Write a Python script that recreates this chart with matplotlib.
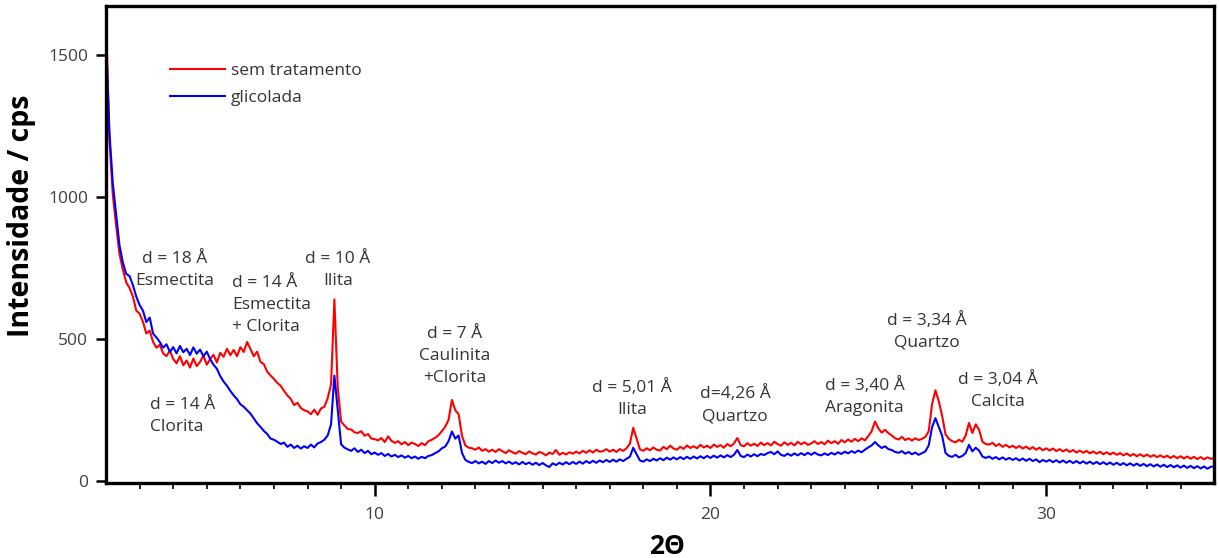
import numpy as np
import matplotlib
matplotlib.use("Agg")
import matplotlib.pyplot as plt

plt.rcParams["font.family"] = ["Open Sans", "DejaVu Sans"]

# 2-theta scan, 0.1 degree step
two_theta = np.round(np.arange(2.0, 35.0001, 0.1), 1)

sem_tratamento = [
    1620, 1200, 1010, 900, 800, 745, 700, 680, 650, 600,
    590, 560, 520, 530, 490, 470, 480, 450, 440, 460,
    430, 415, 440, 408, 425, 400, 432, 405, 420, 442,
    410, 430, 445, 418, 452, 438, 466, 444, 462, 440,
    472, 455, 490, 466, 440, 456, 420, 412, 385, 372,
    360, 346, 336, 318, 302, 290, 268, 276, 258, 250,
    246, 236, 252, 234, 256, 262, 292, 340, 640, 330,
    210, 196, 184, 182, 172, 170, 176, 160, 166, 150,
    148, 144, 152, 138, 158, 142, 135, 141, 130, 138,
    127, 136, 131, 124, 134, 127, 141, 146, 153, 162,
    176, 192, 216, 286, 250, 236, 160, 126, 118, 116,
    111, 119, 107, 113, 104, 111, 103, 113, 106, 99,
    109, 102, 97, 106, 100, 95, 105, 98, 94, 103,
    99, 91, 101, 96, 110, 93, 100, 94, 102, 97,
    104, 98, 107, 100, 109, 101, 111, 104, 106, 113,
    104, 111, 103, 113, 107, 116, 132, 188, 150, 112,
    107, 116, 109, 119, 111, 108, 121, 113, 125, 115,
    111, 121, 114, 126, 117, 123, 116, 128, 119, 125,
    117, 129, 121, 127, 118, 131, 123, 133, 152, 127,
    123, 134, 125, 132, 124, 136, 127, 134, 126, 139,
    131, 125, 137, 128, 135, 126, 139, 130, 137, 128,
    133, 141, 131, 138, 130, 143, 134, 141, 132, 145,
    137, 147, 139, 149, 141, 151, 144, 159, 176, 210,
    186, 171, 181, 169, 161, 151, 147, 156, 145, 151,
    143, 151, 145, 149, 156, 176, 272, 320, 281, 230,
    165, 149, 141, 137, 146, 139, 161, 205, 170, 200,
    181, 139, 131, 129, 135, 124, 131, 121, 128, 119,
    125, 117, 124, 115, 122, 113, 120, 111, 118, 109,
    116, 108, 115, 106, 113, 105, 112, 103, 110, 101,
    108, 100, 107, 98, 105, 97, 104, 95, 102, 94,
    101, 93, 99, 91, 98, 89, 96, 88, 95, 87,
    94, 86, 92, 85, 91, 84, 90, 82, 89, 81,
    88, 80, 87, 79, 86, 78, 85, 77, 84, 79,
    82,
]

glicolada = [
    1560, 1230, 1050, 940, 830, 770, 730, 722, 690, 650,
    620, 600, 560, 576, 520, 506, 490, 470, 482, 455,
    472, 450, 476, 454, 466, 444, 471, 449, 463, 440,
    456, 430, 410, 396, 370, 351, 336, 318, 302, 289,
    271, 262, 250, 238, 221, 204, 191, 177, 166, 150,
    146, 139, 131, 136, 121, 129, 117, 125, 115, 123,
    117, 129, 119, 133, 138, 146, 161, 200, 372, 250,
    130, 118, 112, 107, 116, 103, 111, 99, 107, 95,
    101, 93, 99, 89, 96, 87, 93, 85, 91, 83,
    89, 81, 87, 79, 86, 81, 89, 92, 99, 105,
    116, 122, 141, 175, 150, 161, 100, 75, 68, 64,
    71, 63, 69, 61, 71, 64, 73, 65, 71, 63,
    69, 61, 67, 59, 68, 60, 66, 58, 65, 57,
    64, 56, 50, 63, 57, 65, 59, 67, 60, 68,
    61, 69, 62, 71, 64, 72, 65, 73, 67, 75,
    68, 76, 69, 77, 71, 79, 86, 118, 95, 73,
    69, 77, 71, 79, 73, 81, 74, 83, 76, 84,
    77, 85, 78, 86, 79, 87, 80, 88, 81, 89,
    82, 90, 83, 91, 84, 92, 85, 93, 110, 89,
    85, 94, 87, 95, 88, 96, 92, 99, 103, 95,
    105, 93, 89, 97, 90, 98, 91, 99, 92, 100,
    93, 101, 94, 91, 98, 92, 100, 94, 102, 96,
    104, 98, 106, 100, 108, 102, 111, 119, 126, 138,
    126, 117, 123, 113, 110, 103, 100, 106, 97, 103,
    95, 101, 93, 99, 105, 126, 190, 222, 191, 160,
    100, 89, 86, 93, 84, 89, 99, 128, 105, 118,
    108, 87, 82, 87, 79, 85, 77, 84, 76, 82,
    75, 81, 73, 80, 72, 79, 71, 77, 67, 75,
    69, 75, 67, 74, 66, 73, 65, 72, 64, 71,
    63, 70, 62, 69, 61, 68, 60, 67, 59, 66,
    58, 65, 57, 64, 56, 63, 55, 62, 54, 61,
    53, 60, 52, 59, 51, 58, 50, 57, 49, 56,
    48, 55, 47, 54, 46, 53, 45, 52, 44, 51,
    52,
]

series_labels = ["sem tratamento", "glicolada"]
series_colors = ["#ff0000", "#0000ff"]

# annotation text, anchor (2theta, intensity) and alignment
peak_texts = [
    "d = 18 Å\nEsmectita",
    "d = 14 Å\nEsmectita\n+ Clorita",
    "d = 10 Å\nIlita",
    "d = 14 Å\nClorita",
    "d = 7 Å\nCaulinita\n+Clorita",
    "d = 5,01 Å\nIlita",
    "d=4,26 Å\nQuartzo",
    "d = 3,40 Å\nAragonita",
    "d = 3,34 Å\nQuartzo",
    "d = 3,04 Å\nCalcita",
]
peak_text_x = [4.05, 5.76, 8.91, 3.30, 12.39, 17.66, 20.73, 24.59, 26.44, 28.55]
peak_text_y = [745, 620, 745, 229, 440, 290, 269, 299, 528, 320]
peak_text_ha = ["center", "left", "center", "left", "center", "center",
                "center", "center", "center", "center"]

fig = plt.figure(figsize=(12.19, 5.58), dpi=100)
ax = fig.add_axes([0.087, 0.134, 0.909, 0.855])

ax.plot(two_theta, sem_tratamento, color=series_colors[0], lw=1.5, label=series_labels[0])
ax.plot(two_theta, glicolada, color=series_colors[1], lw=1.5, label=series_labels[1])

for txt, tx, ty, ha in zip(peak_texts, peak_text_x, peak_text_y, peak_text_ha):
    ax.text(tx, ty, txt, ha=ha, va="center", fontsize=12.5, color="#333333",
            linespacing=1.5, multialignment=ha)

ax.set_xlim(2, 35)
ax.set_ylim(-7, 1672)
ax.set_xticks([10, 20, 30])
ax.set_xticks(np.arange(3, 35, 1), minor=True)
ax.set_yticks([0, 500, 1000, 1500])

for s in ax.spines.values():
    s.set_linewidth(2.4)
    s.set_color("black")

ax.tick_params(axis="both", which="major", direction="out", length=7, width=1.8,
               labelsize=12.5, labelcolor="#404040", pad=6)
ax.tick_params(axis="x", which="minor", direction="out", length=4, width=1.2)
ax.tick_params(axis="x", which="major", length=9, pad=8)

ax.set_xlabel("2Θ", fontsize=19, fontweight="bold")
ax.set_ylabel("Intensidade / cps", fontsize=20.5, fontweight="bold")
ax.xaxis.set_label_coords(0.506, -0.105)
ax.yaxis.set_label_coords(-0.063, 0.56)

leg = ax.legend(loc="upper left", bbox_to_anchor=(0.0435, 0.913), frameon=False,
                fontsize=12.5, handlelength=3.2, handletextpad=0.3, labelspacing=0.6)
for t in leg.get_texts():
    t.set_color("#333333")

fig.savefig("out.png", dpi=100)
